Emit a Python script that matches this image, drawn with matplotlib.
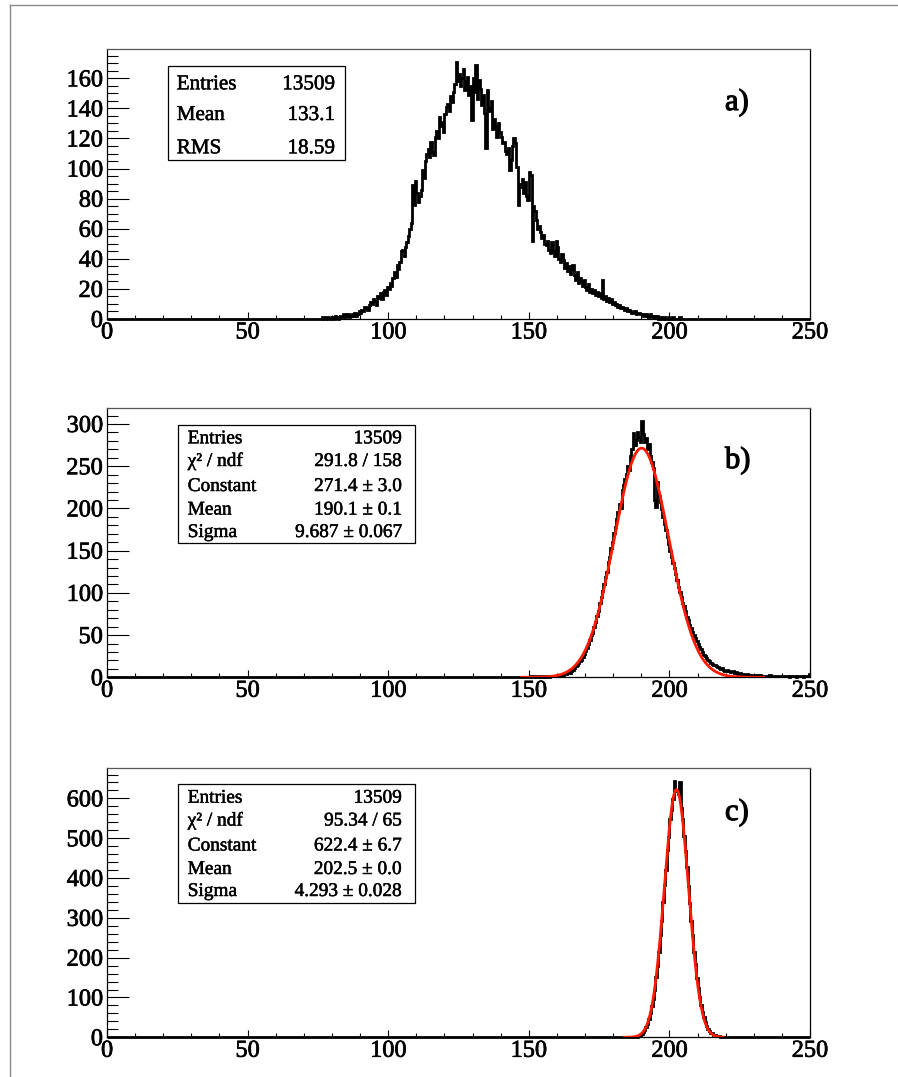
import numpy as np
import matplotlib
matplotlib.use("Agg")
import matplotlib.pyplot as plt
import matplotlib.patheffects as pe
from matplotlib.lines import Line2D
from matplotlib.patches import Rectangle
from matplotlib.ticker import MultipleLocator

plt.rcParams['font.family'] = ['Liberation Serif', 'DejaVu Serif']

# ---------------- data ----------------
BIN_WIDTH = 0.5
X_MIN, X_MAX = 0.0, 250.0

# panel a) bin contents (0.5 wide bins), first bin starts at x = 76.0
a_start = 76.0
a_counts = [
    0, 1, 0, 0, 1, 0, 0, 1, 1, 0,          # 76-80
    2, 1, 0, 1, 2, 1, 3, 1, 2, 3,          # 81-85
    1, 2, 3, 2, 4, 2, 3, 5, 4, 6,          # 86-90
    5, 8, 7, 6, 9, 11, 10, 13, 12, 9,      # 91-95
    15, 14, 17, 13, 18, 19, 16, 21, 20, 24,  # 96-100
    22, 27, 31, 28, 36, 33, 38, 45, 46, 42,  # 101-105
    48, 51, 55, 60, 64, 89, 76, 92, 84, 78,  # 106-110
    82, 86, 99, 94, 105, 110, 113, 108, 118, 111,  # 111-115
    109, 121, 125, 120, 134, 128, 131, 124, 136, 141,  # 116-120
    143, 138, 148, 144, 151, 156, 171, 158, 163, 155,  # 121-125
    160, 166, 152, 158, 161, 149, 155, 132, 160, 151,  # 126-130
    169, 146, 159, 153, 142, 149, 137, 114, 152, 140,  # 131-135
    138, 145, 126, 133, 128, 121, 130, 124, 121, 117,  # 136-140
    118, 112, 110, 114, 99, 106, 115, 120, 117, 101,   # 141-145
    76, 90, 88, 93, 84, 91, 82, 79, 98, 96,            # 146-150
    52, 75, 72, 66, 60, 62, 58, 54, 56, 50,            # 151-155
    49, 52, 46, 44, 51, 45, 42, 52, 48, 40,            # 156-160
    38, 43, 39, 34, 37, 32, 35, 30, 33, 36,            # 161-165
    29, 26, 31, 24, 27, 25, 22, 26, 21, 19,            # 166-170
    23, 18, 20, 17, 19, 16, 18, 15, 17, 14,            # 171-175
    26, 13, 15, 12, 14, 11, 13, 10, 11, 9,             # 176-180
    10, 8, 9, 7, 8, 7, 6, 7, 5, 6,                     # 181-185
    5, 4, 4, 5, 3, 4, 4, 3, 3, 2,                      # 186-190
    2, 3, 2, 1, 3, 2, 1, 2, 1, 2,                      # 191-195
    0, 1, 1, 0, 1, 0, 0, 1, 0, 0,                      # 196-200
    1, 0, 0, 0, 0, 1,                                  # 201-203
]

# panel b) bin contents, first bin starts at x = 150.0
b_start = 150.0
b_counts = [
    0, 1, 0, 0, 1, 0, 0, 1, 0, 0,                      # 150-154
    1, 0, 1, 1, 0, 2, 1, 1, 2, 1,                      # 155-159
    2, 1, 3, 2, 3, 4, 4, 5, 6, 5,                      # 160-164
    8, 9, 11, 13, 14, 17, 19, 21, 24, 28,              # 165-169
    31, 35, 39, 44, 50, 53, 60, 66, 73, 79,            # 170-174
    88, 95, 102, 110, 119, 125, 136, 143, 153, 160,    # 175-179
    171, 178, 188, 196, 205, 201, 222, 228, 235, 241,  # 180-184
    250, 246, 262, 270, 289, 275, 281, 290, 285, 279,  # 185-189
    303, 288, 279, 283, 270, 276, 262, 255, 248, 210,  # 190-194
    202, 231, 215, 208, 199, 190, 181, 174, 166, 158,  # 195-199
    150, 143, 135, 130, 122, 115, 107, 101, 95, 88,    # 200-204
    84, 79, 72, 68, 62, 58, 54, 50, 46, 43,            # 205-209
    39, 36, 33, 30, 27, 25, 23, 21, 19, 17,            # 210-214
    16, 15, 14, 13, 12, 11, 10, 11, 9, 8,              # 215-219
    8, 9, 7, 6, 6, 7, 5, 6, 4, 5,                      # 220-224
    5, 3, 4, 3, 2, 4, 3, 2, 3, 1,                      # 225-229
    2, 3, 2, 1, 3, 2, 1, 2, 2, 1,                      # 230-234
    1, 3, 2, 1, 1, 2, 2, 1, 1, 1,                      # 235-239
    2, 1, 1, 2, 1, 0, 2, 1, 1, 1,                      # 240-244
    0, 2, 1, 1, 1, 0, 2, 1, 1, 4,                      # 245-249
]

# panel c) bin contents, first bin starts at x = 186.0
c_start = 186.0
c_counts = [
    1, 0, 1, 2, 1, 2, 3, 4, 8, 13,                     # 186-190
    18, 26, 34, 45, 60, 79, 96, 120, 152, 178,         # 191-195
    214, 256, 292, 340, 383, 420, 470, 503, 548, 572,  # 196-200
    598, 643, 618, 622, 610, 642, 575, 548, 505, 468,  # 201-205
    428, 380, 338, 292, 258, 213, 184, 150, 125, 100,  # 206-210
    80, 63, 50, 38, 28, 22, 16, 12, 10, 7,             # 211-215
    5, 4, 3, 3, 2, 2, 1, 2, 1, 0,                      # 216-220
    0, 1, 1, 0, 0, 0, 0, 1,                            # 221-224
]

# gaussian fit results
b_fit = {"constant": 271.4, "mean": 190.1, "sigma": 9.687, "range": (147.5, 233.5)}
c_fit = {"constant": 622.4, "mean": 202.5, "sigma": 4.293, "range": (184.0, 219.0)}

a_stats = [("Entries", "13509"), ("Mean", "133.1"), ("RMS", "18.59")]
b_stats = [("Entries", "13509"), ("\u03c7\u00b2 / ndf", "291.8 / 158"),
           ("Constant", "271.4 \u00b1 3.0"), ("Mean", "190.1 \u00b1 0.1"),
           ("Sigma", "9.687 \u00b1 0.067")]
c_stats = [("Entries", "13509"), ("\u03c7\u00b2 / ndf", "95.34 / 65"),
           ("Constant", "622.4 \u00b1 6.7"), ("Mean", "202.5 \u00b1 0.0"),
           ("Sigma", "4.293 \u00b1 0.028")]

panel_labels = ["a)", "b)", "c)"]

# ---------------- figure ----------------
W, H = 898, 1077
fig = plt.figure(figsize=(W / 100, H / 100), dpi=100)
fig.patch.set_facecolor("white")

heavy = [pe.withStroke(linewidth=0.35, foreground="black")]


def fx(px):
    return px / W


def fy(py):
    return 1 - py / H


# canvas frame (top and left gray lines)
fig.add_artist(Line2D([fx(10), fx(898)], [fy(5), fy(5)], color="#8a8a8a", lw=1.0,
                      transform=fig.transFigure))
fig.add_artist(Line2D([fx(10), fx(10)], [fy(5), fy(1077)], color="#8a8a8a", lw=1.0,
                      transform=fig.transFigure))

edges = np.arange(X_MIN, X_MAX + BIN_WIDTH / 2, BIN_WIDTH)
nbins = len(edges) - 1


def full_hist(start, counts):
    h = np.zeros(nbins)
    i0 = int(round((start - X_MIN) / BIN_WIDTH))
    h[i0:i0 + len(counts)] = counts
    return h


panels = [
    dict(top=49, bottom=319, start=a_start, counts=a_counts, ymax=179.5,
         major=20, minor=5, fit=None, stats=a_stats,
         box=(168.3, 65.7, 345, 160.3), lab_x=176.7, val_x=335,
         rows=[89.3, 120.0, 153.3], stat_fs=15.2, lab_base=110),
    dict(top=408.3, bottom=677.3, start=b_start, counts=b_counts, ymax=318.6,
         major=50, minor=10, fit=b_fit, stats=b_stats,
         box=(177.7, 425, 415, 543.3), lab_x=187.7, val_x=401.7,
         rows=[443.3, 466.0, 491.0, 514.5, 537.0], stat_fs=13.9, lab_base=468),
    dict(top=768.3, bottom=1037.3, start=c_start, counts=c_counts, ymax=675.6,
         major=100, minor=20, fit=c_fit, stats=c_stats,
         box=(177.7, 784.3, 415, 903.3), lab_x=187.7, val_x=401.7,
         rows=[802.7, 825.5, 850.5, 874.0, 896.0], stat_fs=13.9, lab_base=820),
]

left_px, right_px = 107, 810
axes = []

for p, lab in zip(panels, panel_labels):
    ax = fig.add_axes([fx(left_px), fy(p["bottom"]), (right_px - left_px) / W,
                       (p["bottom"] - p["top"]) / H])
    axes.append(ax)
    h = full_hist(p["start"], p["counts"])
    ax.stairs(h, edges, color="black", lw=2.0, baseline=None, clip_on=False, zorder=3)
    if p["fit"] is not None:
        f = p["fit"]
        xs = np.linspace(f["range"][0], f["range"][1], 800)
        ys = f["constant"] * np.exp(-0.5 * ((xs - f["mean"]) / f["sigma"]) ** 2)
        ax.plot(xs, ys, color="#ff1a00", lw=2.0, zorder=4)
    ax.set_xlim(X_MIN, X_MAX)
    ax.set_ylim(0, p["ymax"])
    ax.xaxis.set_major_locator(MultipleLocator(50))
    ax.xaxis.set_minor_locator(MultipleLocator(10))
    ax.yaxis.set_major_locator(MultipleLocator(p["major"]))
    ax.yaxis.set_minor_locator(MultipleLocator(p["minor"]))
    ax.tick_params(axis="x", which="major", direction="in", length=5.4, width=0.8,
                   labelsize=17.5, pad=2.5, top=False)
    ax.tick_params(axis="x", which="minor", direction="in", length=2.9, width=0.8, top=False)
    ax.tick_params(axis="y", which="major", direction="in", length=15.8, width=0.8,
                   labelsize=17.5, pad=3, right=False)
    ax.tick_params(axis="y", which="minor", direction="in", length=8.2, width=0.8, right=False)
    for s in ax.spines.values():
        s.set_linewidth(0.9)
        s.set_color("black")
    ax.spines["top"].set_color("#555555")

    # stats box
    x0, y0, x1, y1 = p["box"]
    fig.add_artist(Rectangle((fx(x0), fy(y1)), (x1 - x0) / W, (y1 - y0) / H,
                             transform=fig.transFigure, facecolor="white",
                             edgecolor="black", lw=0.9, zorder=5))
    for (name, val), base in zip(p["stats"], p["rows"]):
        fig.text(fx(p["lab_x"]), fy(base), name, ha="left", va="baseline",
                 fontsize=p["stat_fs"], zorder=6, path_effects=heavy)
        fig.text(fx(p["val_x"]), fy(base), val, ha="right", va="baseline",
                 fontsize=p["stat_fs"], zorder=6, path_effects=heavy)

    fig.text(fx(725), fy(p["lab_base"]), lab, ha="left", va="baseline", fontsize=22,
             path_effects=[pe.withStroke(linewidth=0.8, foreground="black")])

fig.canvas.draw()
for ax in axes:
    for t in ax.get_xticklabels() + ax.get_yticklabels():
        t.set_path_effects([pe.withStroke(linewidth=0.5, foreground="black")])

fig.savefig("out.png", dpi=100, facecolor="white")
